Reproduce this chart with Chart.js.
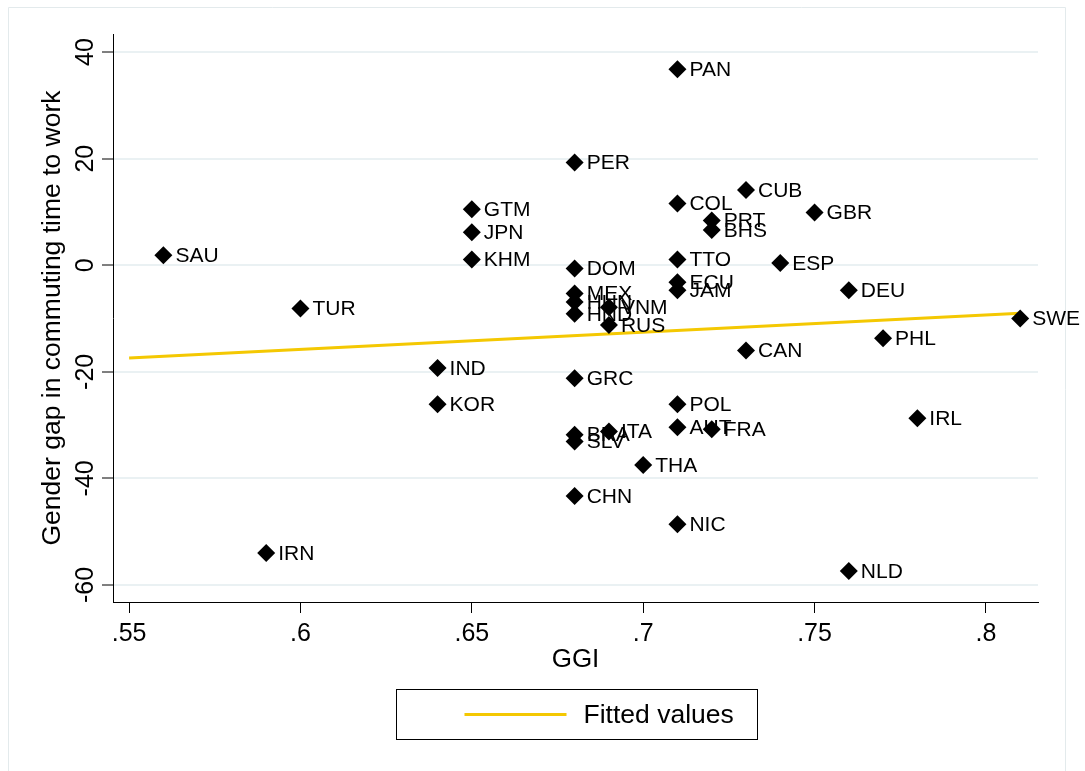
<!DOCTYPE html>
<html>
<head>
<meta charset="utf-8">
<script src="https://cdn.jsdelivr.net/npm/chart.js@4/dist/chart.umd.min.js"></script>
<style>
  html, body { margin: 0; padding: 0; background: #fff; }
  #wrap { width: 1085px; height: 771px; }
</style>
</head>
<body>
<div id="wrap"><canvas id="ggiChart" width="1085" height="771"></canvas></div>
<script>
// country codes, GGI score and gender gap in commuting time
var countries = ['PAN', 'PER', 'CUB', 'GTM', 'COL', 'GBR', 'PRT', 'JPN', 'BHS', 'SAU',
  'KHM', 'TTO', 'ESP', 'DOM', 'ECU', 'JAM', 'DEU', 'MEX', 'HUN', 'VNM',
  'TUR', 'HND', 'RUS', 'SWE', 'PHL', 'CAN', 'IND', 'GRC', 'KOR', 'POL',
  'IRL', 'AUT', 'FRA', 'BRA', 'ITA', 'SLV', 'THA', 'CHN', 'NIC', 'IRN', 'NLD'];
var ggi = [0.71, 0.68, 0.73, 0.65, 0.71, 0.75, 0.72, 0.65, 0.72, 0.56,
  0.65, 0.71, 0.74, 0.68, 0.71, 0.71, 0.76, 0.68, 0.68, 0.69,
  0.60, 0.68, 0.69, 0.81, 0.77, 0.73, 0.64, 0.68, 0.64, 0.71,
  0.78, 0.71, 0.72, 0.68, 0.69, 0.68, 0.70, 0.68, 0.71, 0.59, 0.76];
var commuteGap = [36.8, 19.3, 14.1, 10.5, 11.6, 9.9, 8.4, 6.2, 6.6, 1.9,
  1.1, 1.1, 0.4, -0.6, -3.2, -4.7, -4.7, -5.3, -6.9, -7.9,
  -8.1, -9.1, -11.2, -10.0, -13.7, -16.0, -19.3, -21.2, -26.1, -26.1,
  -28.7, -30.4, -30.8, -31.8, -31.2, -33.1, -37.5, -43.3, -48.6, -54.0, -57.4];

// fitted line end points
var fitGGI = [0.55, 0.81];
var fitGap = [-17.4, -9.0];

var xTicks = [0.55, 0.6, 0.65, 0.7, 0.75, 0.8];
var yTicks = [-60, -40, -20, 0, 20, 40];

var FONT = "'Liberation Sans', Arial, sans-serif";
var GOLD = '#f4c802';

function dotLabel(v) {
  return String(Number(v.toFixed(2))).replace(/^0\./, '.').replace(/^-0\./, '-.');
}

var points = ggi.map(function(g, i) { return { x: g, y: commuteGap[i] }; });
var fitPoints = fitGGI.map(function(g, i) { return { x: g, y: fitGap[i] }; });

var graphFrame = {
  id: 'graphFrame',
  beforeDraw: function(chart) {
    var ctx = chart.ctx;
    ctx.save();
    ctx.fillStyle = '#fff';
    ctx.fillRect(0, 0, chart.width, chart.height);
    ctx.strokeStyle = '#e3eaec';
    ctx.lineWidth = 1;
    ctx.beginPath();
    ctx.moveTo(8.5, chart.height);
    ctx.lineTo(8.5, 7.5);
    ctx.lineTo(1065.5, 7.5);
    ctx.lineTo(1065.5, chart.height);
    ctx.stroke();
    ctx.restore();
  }
};

var pointLabels = {
  id: 'pointLabels',
  afterDatasetsDraw: function(chart) {
    var ctx = chart.ctx;
    var meta = chart.getDatasetMeta(0);
    ctx.save();
    ctx.font = '21px ' + FONT;
    ctx.fillStyle = '#000';
    ctx.textAlign = 'left';
    ctx.textBaseline = 'middle';
    meta.data.forEach(function(el, i) {
      ctx.fillText(countries[i], el.x + 12, el.y + 1);
    });
    ctx.restore();
  }
};

var boxedLegend = {
  id: 'boxedLegend',
  afterDraw: function(chart) {
    var ctx = chart.ctx;
    var area = chart.chartArea;
    var cx = (area.left + area.right) / 2;
    var left = Math.round(cx - 180) + 0.5;
    var top = 689.5;
    ctx.save();
    ctx.strokeStyle = '#000';
    ctx.lineWidth = 1;
    ctx.strokeRect(left, top, 361, 50);
    ctx.strokeStyle = GOLD;
    ctx.lineWidth = 3;
    ctx.beginPath();
    ctx.moveTo(left + 68, top + 25);
    ctx.lineTo(left + 170, top + 25);
    ctx.stroke();
    ctx.font = '26.5px ' + FONT;
    ctx.fillStyle = '#000';
    ctx.textBaseline = 'middle';
    ctx.fillText(chart.data.datasets[1].label, left + 187, top + 26);
    ctx.restore();
  }
};

var canvas = document.getElementById('ggiChart');
var ctx = canvas.getContext('2d');
var ggiChart = new Chart(ctx, {
  type: 'scatter',
  data: {
    datasets: [{
      label: 'Gender gap in commuting time to work',
      data: points,
      pointStyle: 'rectRot',
      pointRadius: 9,
      pointBackgroundColor: '#000',
      pointBorderColor: '#000',
      pointBorderWidth: 0
    }, {
      type: 'line',
      label: 'Fitted values',
      data: fitPoints,
      borderColor: GOLD,
      borderWidth: 3,
      pointRadius: 0,
      fill: false
    }]
  },
  options: {
    responsive: false,
    animation: false,
    devicePixelRatio: 1,
    layout: { padding: { left: 0, top: 34, right: 47, bottom: 0 } },
    plugins: {
      legend: { display: false },
      tooltip: { enabled: false }
    },
    scales: {
      x: {
        type: 'linear',
        min: 0.5453,
        max: 0.8152,
        afterBuildTicks: function(scale) {
          scale.ticks = xTicks.map(function(v) { return { value: v }; });
        },
        afterFit: function(scale) { scale.height = 169; },
        grid: { drawOnChartArea: false, tickLength: 11, tickColor: '#000', tickWidth: 1 },
        border: { color: '#000', width: 1 },
        ticks: {
          font: { family: FONT, size: 25 },
          color: '#000',
          padding: 6,
          maxRotation: 0,
          callback: function(v) { return dotLabel(v); }
        },
        title: {
          display: true,
          text: 'GGI',
          color: '#000',
          font: { family: FONT, size: 26 },
          padding: { top: 0, bottom: 96 }
        }
      },
      y: {
        type: 'linear',
        min: -63.2,
        max: 43.4,
        afterBuildTicks: function(scale) {
          scale.ticks = yTicks.map(function(v) { return { value: v }; });
        },
        afterFit: function(scale) { scale.width = 113; },
        grid: { color: '#eaf1f3', lineWidth: 2, tickLength: 11, tickColor: '#000', tickWidth: 1 },
        border: { color: '#000', width: 1 },
        ticks: {
          font: { family: FONT, size: 25 },
          color: '#000',
          padding: -2,
          minRotation: 90,
          maxRotation: 90,
          crossAlign: 'center',
          callback: function(v) { return String(v); }
        },
        title: {
          display: true,
          text: 'Gender gap in commuting time to work',
          color: '#000',
          font: { family: FONT, size: 26.5 },
          padding: { top: 37, bottom: 0 }
        }
      }
    }
  },
  plugins: [graphFrame, pointLabels, boxedLegend]
});
</script>
</body>
</html>
